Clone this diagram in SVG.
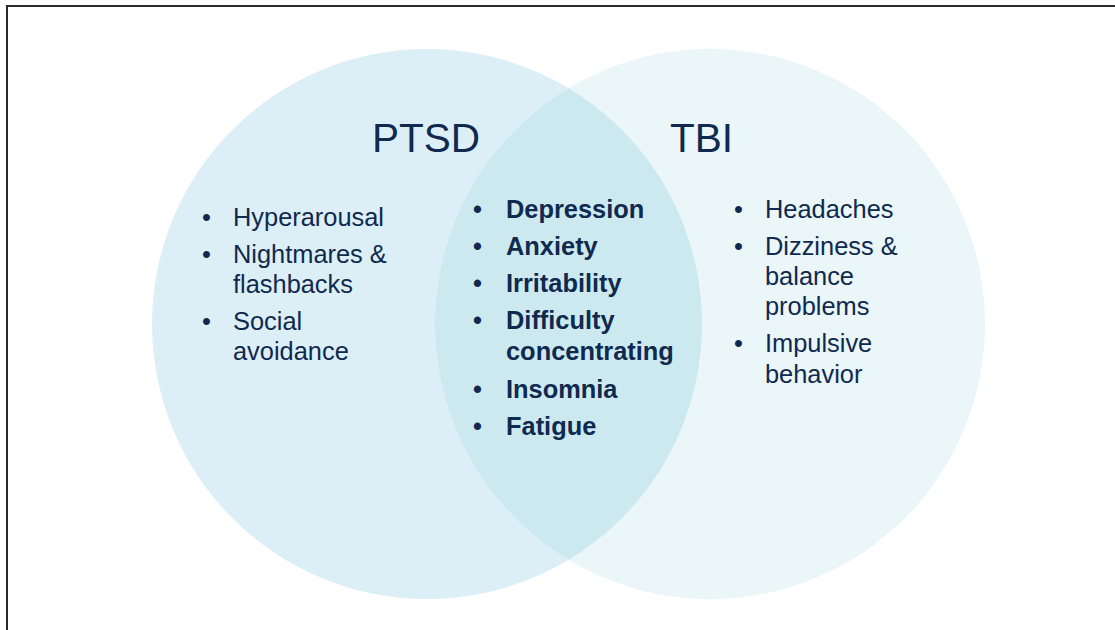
<svg xmlns="http://www.w3.org/2000/svg" width="1115" height="630" viewBox="0 0 1115 630">
  <style>
    .t { font-family: "Liberation Sans", Arial, sans-serif; fill: #10294F; }
    .head { font-size: 40.5px; }
    .item { font-size: 25.4px; }
    .b { font-weight: bold; }
    .frame { stroke: #2a2a2a; stroke-width: 2; fill: none; }
  </style>
  <defs>
    <clipPath id="leftClip">
      <circle cx="427" cy="324" r="275"/>
    </clipPath>
  </defs>
  <rect width="1115" height="630" fill="#ffffff"/>
  <path class="frame" d="M7 630 V6 H1115"/>

  <!-- PTSD set -->
  <g id="ptsd">
    <circle cx="427" cy="324" r="275" fill="#DDEFF6"/>
    <text class="t head" x="372" y="152">PTSD</text>
  </g>

  <!-- TBI set -->
  <g id="tbi">
    <circle cx="710" cy="324" r="275" fill="#EAF6F8"/>
    <text class="t head" x="670" y="152">TBI</text>
  </g>

  <!-- shared region -->
  <g id="overlap">
    <circle cx="710" cy="324" r="275" fill="#CDE9F0" clip-path="url(#leftClip)"/>
  </g>

  <!-- PTSD-only symptoms -->
  <g id="ptsd-list" class="t item">
    <text x="202" y="226">•</text><text x="233" y="226">Hyperarousal</text>
    <text x="202" y="263">•</text><text x="233" y="263">Nightmares &amp;</text>
    <text x="233" y="293">flashbacks</text>
    <text x="202" y="330">•</text><text x="233" y="330">Social</text>
    <text x="233" y="360">avoidance</text>
  </g>

  <!-- shared symptoms -->
  <g id="shared-list" class="t item b">
    <text x="473" y="218">•</text><text x="506" y="218">Depression</text>
    <text x="473" y="255">•</text><text x="506" y="255">Anxiety</text>
    <text x="473" y="292">•</text><text x="506" y="292">Irritability</text>
    <text x="473" y="329">•</text><text x="506" y="329">Difficulty</text>
    <text x="506" y="360">concentrating</text>
    <text x="473" y="398">•</text><text x="506" y="398">Insomnia</text>
    <text x="473" y="435">•</text><text x="506" y="435">Fatigue</text>
  </g>

  <!-- TBI-only symptoms -->
  <g id="tbi-list" class="t item">
    <text x="734" y="218">•</text><text x="765" y="218">Headaches</text>
    <text x="734" y="255">•</text><text x="765" y="255">Dizziness &amp;</text>
    <text x="765" y="285">balance</text>
    <text x="765" y="315">problems</text>
    <text x="734" y="352">•</text><text x="765" y="352">Impulsive</text>
    <text x="765" y="383">behavior</text>
  </g>
</svg>
